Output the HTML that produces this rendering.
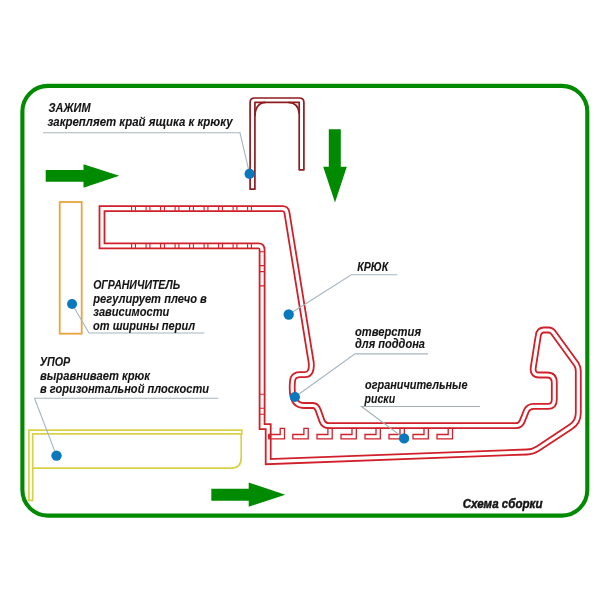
<!DOCTYPE html>
<html><head><meta charset="utf-8"><title>Схема сборки</title>
<style>html,body{margin:0;padding:0;background:#fff;width:600px;height:600px;overflow:hidden}svg{display:block}</style>
</head><body>
<svg width="600" height="600" viewBox="0 0 600 600">
<rect width="600" height="600" fill="#fff"/>
<rect x="22.4" y="85.9" width="564.9" height="429.7" rx="25.5" fill="none" stroke="#008a00" stroke-width="4.1"/>
<!-- arrows -->
<polygon fill="#008a00" points="45.7,170 83.5,170 83.5,164.3 119.2,175.8 83.5,187.7 83.5,181.7 45.7,181.7"/>
<polygon fill="#008a00" points="211.3,488.7 248.7,488.7 248.7,482.5 285.3,494.7 248.7,506.7 248.7,500.8 211.3,500.8"/>
<polygon fill="#008a00" points="328.8,129.3 340.8,129.3 340.8,166.8 346.8,166.8 335,202.5 323.2,166.8 328.8,166.8"/>
<!-- orange limiter -->
<rect x="59.7" y="202" width="22" height="131.7" fill="none" stroke="#e9a53c" stroke-width="1.8"/>
<!-- yellow stop -->
<g fill="none" stroke="#d8d247" stroke-width="1.7">
<path d="M28.9,430.1 H241.8 V433.8 H32.7 V500.3 H28.9 Z"/>
<path d="M241.2,433.8 V458 Q241.2,468.2 231,468.2 H32.7"/>
</g>
<!-- clamp -->
<g fill="none" stroke="#8e1c1f" stroke-width="1.7" stroke-linejoin="round">
<path d="M250.1,189.2 V102.5 Q250.1,98 254.6,98 H299.4 Q303.9,98 303.9,102.5 V169.8 H299.2 V102.4 H254.9 V189.2 Z"/>
<path d="M254.9,116 Q255.5,103 265.5,102.4 M288.5,102.4 Q298.5,103 299.2,113.5"/>
</g>
<!-- hook -->
<path d="M102,208.6 L282.5,208.6 Q286.3,208.6 286.9,212.5 L311.2,362.5 Q312.3,374.6 305,374.6 L300,374.6 C292.2,374.6 292.2,380 292.2,388 C292.2,399 295.5,405.5 304,405.5 L313,405.5 Q316.5,405.5 318.3,410.5 L322,421 Q323.7,425.7 329,425.7 L516,425.7 Q520.5,425.7 522.3,421 L526.3,411 Q528.3,406.4 533.5,406.4 L548,406.4 Q554.3,406.4 554.3,399.5 L554.3,382.5 Q554.3,375 547,375 L539,375 Q532.6,375 533.2,368 L538.2,336 Q539,330 544,330 L548.5,330 Q551.5,330 553.3,332.5 L576.5,364.5 Q578.3,367.4 578.3,371 L578.3,412.9 Q578.3,421.9 570.7,426.9 L538,448.5 Q533,451.8 527,452 L268.2,461.6 L268.2,426.6 L262.1,426.6 L262.1,250 Q262.1,245.8 258.5,245.8 L102,245.8 Z" fill="none" stroke="#d0202a" stroke-width="6.8" stroke-linejoin="miter"/>
<path d="M102,208.6 L282.5,208.6 Q286.3,208.6 286.9,212.5 L311.2,362.5 Q312.3,374.6 305,374.6 L300,374.6 C292.2,374.6 292.2,380 292.2,388 C292.2,399 295.5,405.5 304,405.5 L313,405.5 Q316.5,405.5 318.3,410.5 L322,421 Q323.7,425.7 329,425.7 L516,425.7 Q520.5,425.7 522.3,421 L526.3,411 Q528.3,406.4 533.5,406.4 L548,406.4 Q554.3,406.4 554.3,399.5 L554.3,382.5 Q554.3,375 547,375 L539,375 Q532.6,375 533.2,368 L538.2,336 Q539,330 544,330 L548.5,330 Q551.5,330 553.3,332.5 L576.5,364.5 Q578.3,367.4 578.3,371 L578.3,412.9 Q578.3,421.9 570.7,426.9 L538,448.5 Q533,451.8 527,452 L268.2,461.6 L268.2,426.6 L262.1,426.6 L262.1,250 Q262.1,245.8 258.5,245.8 L102,245.8 Z" fill="none" stroke="#fff" stroke-width="3.2" stroke-linejoin="miter"/>
<path d="M131.60,206.40V210.80M131.60,243.60V248.00M135.40,206.40V210.80M135.40,243.60V248.00M146.10,206.40V210.80M146.10,243.60V248.00M149.90,206.40V210.80M149.90,243.60V248.00M160.60,206.40V210.80M160.60,243.60V248.00M164.40,206.40V210.80M164.40,243.60V248.00M175.10,206.40V210.80M175.10,243.60V248.00M178.90,206.40V210.80M178.90,243.60V248.00M189.60,206.40V210.80M189.60,243.60V248.00M193.40,206.40V210.80M193.40,243.60V248.00M204.10,206.40V210.80M204.10,243.60V248.00M207.90,206.40V210.80M207.90,243.60V248.00M218.60,206.40V210.80M218.60,243.60V248.00M222.40,206.40V210.80M222.40,243.60V248.00M233.10,206.40V210.80M233.10,243.60V248.00M236.90,206.40V210.80M236.90,243.60V248.00M247.60,206.40V210.80M247.60,243.60V248.00M251.40,206.40V210.80M251.40,243.60V248.00M259.90,251.75H264.30M259.90,265.60H264.30M259.90,271.60H264.30M259.90,285.90H264.30M259.90,394.20H264.30M259.90,408.30H264.30M259.90,414.20H264.30" fill="none" stroke="#d0202a" stroke-width="1.1"/>
<path d="M268.8,434.5 H280.2 V428.3 H284.5 V438.8 H268.8 Z M292.8,434.5 H303.9 V428.3 H308.2 V438.8 H292.8 Z M317,434.5 H327.9 V428.3 H332.2 V438.8 H317 Z M341,434.5 H352.0 V428.3 H356.3 V438.8 H341 Z M365,434.5 H376.0 V428.3 H380.3 V438.8 H365 Z M389,434.5 H400.0 V428.3 H404.3 V438.8 H389 Z M413,434.5 H424.0 V428.3 H428.3 V438.8 H413 Z M437,434.5 H448.2 V428.3 H452.5 V438.8 H437 Z" fill="none" stroke="#d0202a" stroke-width="1.3"/>
<circle cx="269.5" cy="436.5" r="1.6" fill="#d0202a"/>
<!-- leaders -->
<g fill="none" stroke="#a6b5c0" stroke-width="1.1">
<path d="M43,132.8 H240 L249.6,173.9"/>
<path d="M72.05,304 L89,333 H204.3"/>
<path d="M34.5,398.2 H218.3 M34.5,398.2 L56.5,455.6"/>
<path d="M288.7,314.5 L351.3,274.8 H397.3"/>
<path d="M294.9,397 L355,353.9 H428"/>
</g>
<path d="M404.1,438.4 L361.5,406.5 H480" fill="none" stroke="#a3adb3" stroke-width="1.1"/>
<!-- dots -->
<g fill="#0a78bd">
<circle cx="249.6" cy="173.9" r="5.1"/>
<circle cx="72.05" cy="304" r="5.0"/>
<circle cx="56.5" cy="455.6" r="5.2"/>
<circle cx="288.7" cy="314.5" r="5.15"/>
<circle cx="294.9" cy="397" r="5.1"/>
<circle cx="404.1" cy="438.4" r="5.15"/>
</g>
<g style="will-change:transform" font-family="'Liberation Sans', sans-serif" font-style="italic" fill="#141414" stroke="#141414" stroke-width="0.1">
<text x="48.5" y="111.6" textLength="42" lengthAdjust="spacingAndGlyphs" font-size="11.9" font-weight="bold">ЗАЖИМ</text><text x="47.5" y="125.5" textLength="185" lengthAdjust="spacingAndGlyphs" font-size="11.9" font-weight="bold">закрепляет край ящика к крюку</text><text x="93.2" y="289" textLength="87" lengthAdjust="spacingAndGlyphs" font-size="11.9" font-weight="bold">ОГРАНИЧИТЕЛЬ</text><text x="93.3" y="302.6" textLength="113.5" lengthAdjust="spacingAndGlyphs" font-size="11.9" font-weight="bold">регулирует плечо в</text><text x="93.3" y="316.4" textLength="76" lengthAdjust="spacingAndGlyphs" font-size="11.9" font-weight="bold">зависимости</text><text x="93.1" y="329.9" textLength="102" lengthAdjust="spacingAndGlyphs" font-size="11.9" font-weight="bold">от ширины перил</text><text x="39.7" y="366.3" textLength="30.5" lengthAdjust="spacingAndGlyphs" font-size="11.9" font-weight="bold">УПОР</text><text x="40" y="380" textLength="110" lengthAdjust="spacingAndGlyphs" font-size="11.9" font-weight="bold">выравнивает крюк</text><text x="40" y="393.4" textLength="169" lengthAdjust="spacingAndGlyphs" font-size="11.9" font-weight="bold">в горизонтальной плоскости</text><text x="357.3" y="271.1" textLength="31" lengthAdjust="spacingAndGlyphs" font-size="11.9" font-weight="bold">КРЮК</text><text x="355" y="335.8" textLength="66" lengthAdjust="spacingAndGlyphs" font-size="11.9" font-weight="bold">отверстия</text><text x="355" y="348.3" textLength="70" lengthAdjust="spacingAndGlyphs" font-size="11.9" font-weight="bold">для поддона</text><text x="365" y="388.9" textLength="102.5" lengthAdjust="spacingAndGlyphs" font-size="11.9" font-weight="bold">ограничительные</text><text x="364.6" y="402.5" textLength="30.5" lengthAdjust="spacingAndGlyphs" font-size="11.9" font-weight="bold">риски</text><text x="462.7" y="507.6" textLength="79.8" lengthAdjust="spacingAndGlyphs" font-size="12.2" font-weight="bold" stroke-width="0.45">Схема сборки</text>
</g>
</svg>
</body></html>
